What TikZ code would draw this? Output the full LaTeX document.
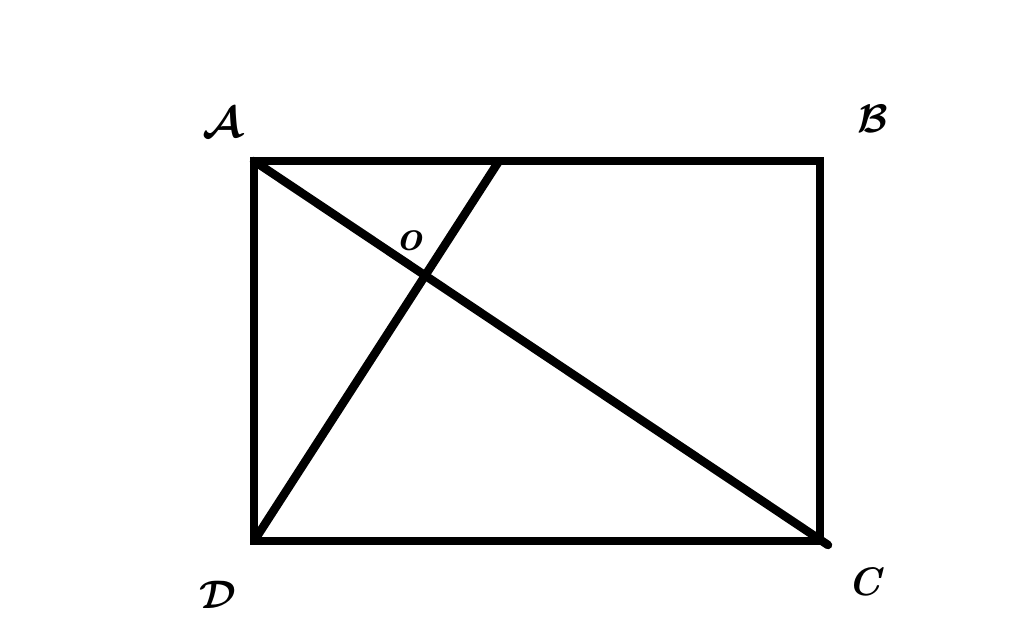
\documentclass[tikz,border=0pt]{standalone}
\usepackage{graphicx}
\usepackage{amsmath}
\begin{document}
\begin{tikzpicture}[x=1pt,y=-1pt,
  edge/.style={line width=8.5pt},
  lab/.style={font=\Huge\boldmath, inner sep=0pt}]
\useasboundingbox (0,0) rectangle (1024,639);
\coordinate (A) at (254,161);
\coordinate (B) at (820,161);
\coordinate (C) at (820,541);
\coordinate (D) at (254,541);
\coordinate (Cx) at (828,545);
\coordinate (E) at (499,161);
\draw[edge, line join=miter] (A) -- (B) -- (C) -- (D) -- cycle;
\draw[edge, line cap=round] (A) -- (Cx);
\draw[edge] (D) -- (E);
\node[lab] (la) at (223,123) {\scalebox{1.75}{$\mathcal{A}$}};
\node[lab] (lb) at (873,119) {\scalebox{1.6}{$\mathcal{B}$}};
\node[lab] (lc) at (867,582) {\scalebox{1.6}{$\mathit{C}$}};
\node[lab] (ld) at (218,595) {\scalebox{1.6}{$\mathcal{D}$}};
\node[lab, font=\fontsize{44}{48}\selectfont\bfseries\itshape] (lo) at (409,241) {o};
\end{tikzpicture}
\end{document}
